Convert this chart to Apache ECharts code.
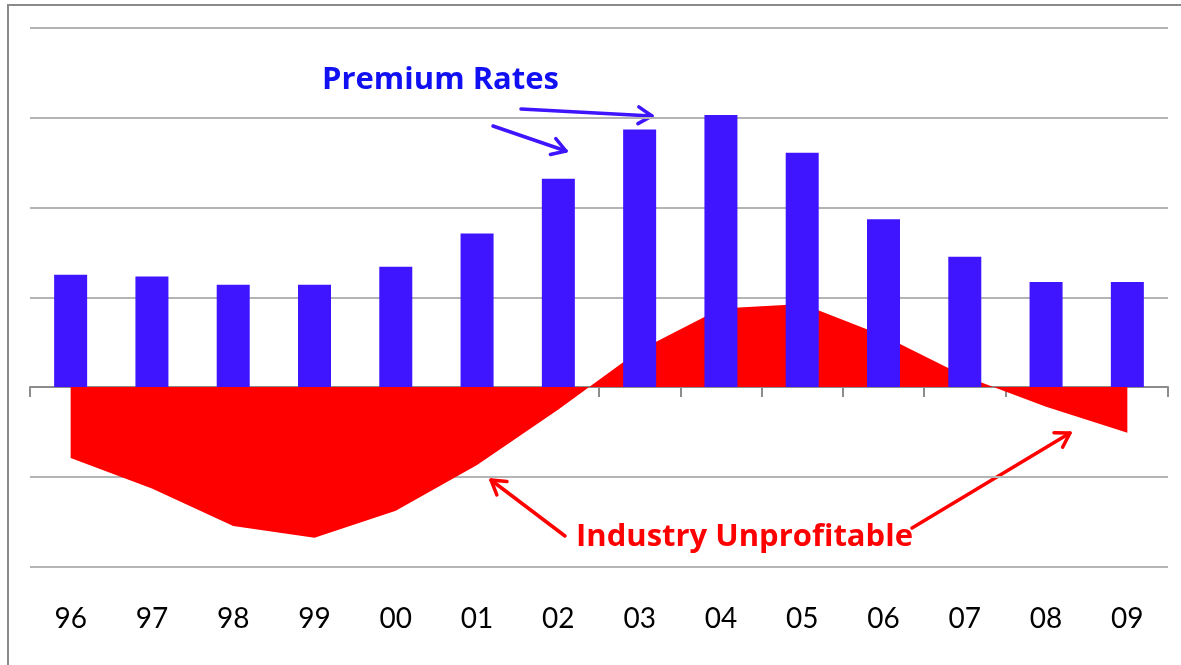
<!DOCTYPE html>
<html>
<head>
<meta charset="utf-8">
<style>
  html, body { margin: 0; padding: 0; background: #ffffff; }
  #chart { width: 1181px; height: 665px; }
</style>
<script src="https://cdn.jsdelivr.net/npm/echarts@6/dist/echarts.min.js"></script>
</head>
<body>
<div id="chart"></div>
<script>
// ---- data ----
const categories = ['96', '97', '98', '99', '00', '01', '02', '03', '04', '05', '06', '07', '08', '09'];
const premiumRates = [1.25, 1.23, 1.14, 1.14, 1.34, 1.71, 2.32, 2.87, 3.03, 2.61, 1.87, 1.45, 1.17, 1.17];
const profitability = [-0.79, -1.13, -1.55, -1.68, -1.38, -0.87, -0.25, 0.41, 0.875, 0.925, 0.57, 0.12, -0.22, -0.51];
const yTicks = { min: -2, max: 4, interval: 1 };

const BLUE_BAR = '#3f14ff';
const BLUE_TEXT = '#1010f2';
const RED = '#ff0000';

function arrow(x1, y1, x2, y2, color, width, head) {
  const a = Math.atan2(y2 - y1, x2 - x1);
  const spread = 0.55;
  const hx1 = x2 - head * Math.cos(a - spread), hy1 = y2 - head * Math.sin(a - spread);
  const hx2 = x2 - head * Math.cos(a + spread), hy2 = y2 - head * Math.sin(a + spread);
  const style = { stroke: color, lineWidth: width, lineCap: 'round', lineJoin: 'round', fill: null };
  return {
    type: 'group',
    z: 100,
    children: [
      { type: 'line', shape: { x1: x1, y1: y1, x2: x2, y2: y2 }, style: style },
      { type: 'polyline', shape: { points: [[hx1, hy1], [x2, y2], [hx2, hy2]] }, style: style }
    ]
  };
}

const chart = echarts.init(document.getElementById('chart'), null, { renderer: 'canvas' });

const option = {
  animation: false,
  backgroundColor: '#ffffff',
  grid: { left: 30, right: 13, top: 28, bottom: 98.5, containLabel: false },
  xAxis: [
    {
      type: 'category',
      data: categories,
      position: 'bottom',
      boundaryGap: true,
      axisLine: { show: false, onZero: false },
      axisTick: { show: false },
      splitLine: { show: false },
      axisLabel: { show: true, color: '#000000', fontSize: 28, fontFamily: 'Lato', margin: 38 }
    },
    {
      type: 'category',
      data: categories,
      position: 'top',
      boundaryGap: true,
      axisLine: { show: true, onZero: true, lineStyle: { color: '#8c8c8c', width: 2 } },
      axisTick: { show: true, inside: true, length: 10, lineStyle: { color: '#8c8c8c', width: 2 } },
      axisLabel: { show: false },
      splitLine: { show: false }
    }
  ],
  yAxis: {
    type: 'value',
    min: yTicks.min,
    max: yTicks.max,
    interval: yTicks.interval,
    axisLine: { show: false },
    axisTick: { show: false },
    axisLabel: { show: false },
    splitLine: { show: true, lineStyle: { color: '#b4b4b4', width: 2 } }
  },
  series: [
    {
      name: 'Profitability',
      type: 'line',
      xAxisIndex: 0,
      data: profitability,
      symbol: 'none',
      smooth: false,
      lineStyle: { width: 0, color: RED },
      areaStyle: { color: RED, opacity: 1 },
      z: 1
    },
    {
      name: 'Premium Rates',
      type: 'bar',
      xAxisIndex: 0,
      data: premiumRates,
      barWidth: 33,
      itemStyle: { color: BLUE_BAR },
      z: 3
    }
  ],
  graphic: [
    {
      type: 'rect',
      z: -10,
      shape: { x: 8, y: 5, width: 1200, height: 700 },
      style: { fill: null, stroke: '#8a8a8a', lineWidth: 2 }
    },
    {
      type: 'text',
      z: 100,
      x: 322, y: 80,
      style: { text: 'Premium Rates', fill: BLUE_TEXT, font: 'bold 31px "Open Sans"', textVerticalAlign: 'middle' }
    },
    {
      type: 'text',
      z: 100,
      x: 576, y: 537,
      style: { text: 'Industry Unprofitable', fill: RED, font: 'bold 31px "Open Sans"', textVerticalAlign: 'middle' }
    },
    arrow(493, 126, 566, 151, BLUE_BAR, 3.5, 16),
    arrow(521, 109, 652, 116, BLUE_BAR, 3.5, 16),
    arrow(565, 536, 491, 480, RED, 3.5, 16),
    arrow(912, 528, 1070, 433, RED, 3.5, 16)
  ]
};

chart.setOption(option);
</script>
</body>
</html>
